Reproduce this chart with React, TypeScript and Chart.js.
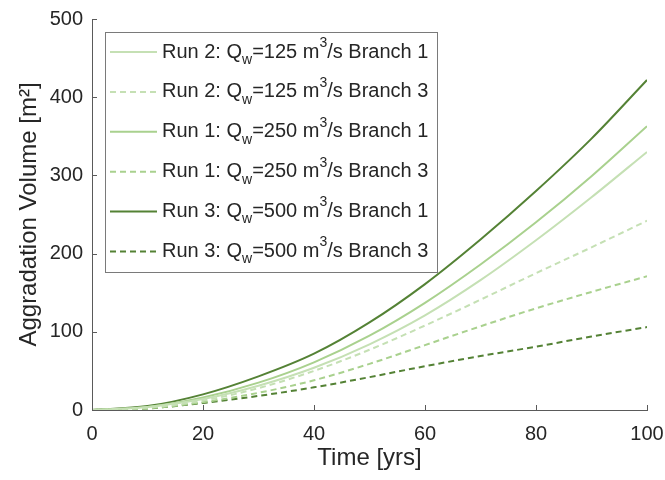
import React, { useEffect, useRef } from "react";
import { Chart, registerables } from "chart.js";

Chart.register(...registerables);

// Time axis (years) and aggradation volumes (m^2) for each run / branch
const years = [0, 10, 20, 30, 40, 50, 60, 70, 80, 90, 100];

const run2Branch1 = [0, 4, 14, 31, 54, 84, 121, 166, 217, 272, 330];
const run2Branch3 = [0, 3, 12, 28, 50, 77, 108, 141, 175, 208, 242];
const run1Branch1 = [0, 4, 16, 35, 61, 95, 137, 186, 240, 299, 363];
const run1Branch3 = [0, 2, 10, 22, 38, 59, 83, 107, 130, 151, 171];
const run3Branch1 = [0, 5, 20, 43, 72, 112, 161, 218, 280, 347, 422];
const run3Branch3 = [0, 2, 9, 18, 29, 42, 56, 69, 81, 94, 106];

// Legend pieces
const runNames = ["Run 2", "Run 2", "Run 1", "Run 1", "Run 3", "Run 3"];
const discharges = [125, 125, 250, 250, 500, 500];
const branches = [1, 3, 1, 3, 1, 3];

const xTicks = [0, 20, 40, 60, 80, 100];
const yTicks = [0, 100, 200, 300, 400, 500];

const LIGHT = "#c5e0b4";
const MEDIUM = "#a9d18e";
const DARK = "#548235";
const AXIS = "#5a5a5a";
const TEXT = "#262626";
const FONT = "'Liberation Sans', Arial, Helvetica, sans-serif";

const seriesValues = [run2Branch1, run2Branch3, run1Branch1, run1Branch3, run3Branch1, run3Branch3];
const seriesColors = [LIGHT, LIGHT, MEDIUM, MEDIUM, DARK, DARK];

const axesAndLegend = {
  id: "axesAndLegend",
  afterDraw(chart: any) {
    const { ctx, chartArea, scales } = chart;
    const xs = scales.x;
    const ys = scales.y;
    ctx.save();
    // inward tick marks
    ctx.strokeStyle = AXIS;
    ctx.lineWidth = 1;
    ctx.beginPath();
    xTicks.forEach((t) => {
      const px = Math.round(xs.getPixelForValue(t)) + 0.5;
      ctx.moveTo(px, chartArea.bottom);
      ctx.lineTo(px, chartArea.bottom - 5);
    });
    yTicks.forEach((t) => {
      const py = Math.round(ys.getPixelForValue(t)) + 0.5;
      ctx.moveTo(chartArea.left, py);
      ctx.lineTo(chartArea.left + 5, py);
    });
    ctx.stroke();

    // legend with sub/superscripts
    const big = `20px ${FONT}`;
    const small = `14px ${FONT}`;
    const rowH = 39.9;
    const left = chartArea.left + 13;
    const top = chartArea.top + 13;
    const textX = left + 57;

    const measureRow = (i: number) => {
      ctx.font = big;
      let w = ctx.measureText(`${runNames[i]}: Q`).width;
      ctx.font = small;
      w += ctx.measureText("w").width;
      ctx.font = big;
      w += ctx.measureText(`=${discharges[i]} m`).width;
      ctx.font = small;
      w += ctx.measureText("3").width;
      ctx.font = big;
      w += ctx.measureText(`/s Branch ${branches[i]}`).width;
      return w;
    };
    let maxW = 0;
    for (let i = 0; i < runNames.length; i++) maxW = Math.max(maxW, measureRow(i));
    const boxW = Math.round(57 + maxW + 9);
    const boxH = Math.round(rowH * runNames.length + 1);

    ctx.fillStyle = "#ffffff";
    ctx.fillRect(left, top, boxW, boxH);
    ctx.strokeStyle = "#7a7a7a";
    ctx.lineWidth = 1;
    ctx.strokeRect(left + 0.5, top + 0.5, boxW, boxH);

    chart.data.datasets.forEach((ds: any, i: number) => {
      const cy = top + 20 + i * rowH;
      ctx.strokeStyle = ds.borderColor;
      ctx.lineWidth = ds.borderWidth;
      ctx.setLineDash(ds.borderDash || []);
      ctx.beginPath();
      ctx.moveTo(left + 5, cy);
      ctx.lineTo(left + 52, cy);
      ctx.stroke();
      ctx.setLineDash([]);

      ctx.fillStyle = TEXT;
      ctx.textBaseline = "middle";
      ctx.textAlign = "left";
      let x = textX;
      ctx.font = big;
      let s = `${runNames[i]}: Q`;
      ctx.fillText(s, x, cy);
      x += ctx.measureText(s).width;
      ctx.font = small;
      ctx.fillText("w", x, cy + 8);
      x += ctx.measureText("w").width;
      ctx.font = big;
      s = `=${discharges[i]} m`;
      ctx.fillText(s, x, cy);
      x += ctx.measureText(s).width;
      ctx.font = small;
      ctx.fillText("3", x, cy - 9);
      x += ctx.measureText("3").width;
      ctx.font = big;
      ctx.fillText(`/s Branch ${branches[i]}`, x, cy);
    });
    ctx.restore();
  },
};

export default function App() {
  const canvasRef = useRef<HTMLCanvasElement | null>(null);

  useEffect(() => {
    document.body.style.margin = "0";
    const canvas = canvasRef.current;
    if (!canvas) return;

    const datasets = seriesValues.map((vals, i) => ({
      label: `${runNames[i]}: Qw=${discharges[i]} m3/s Branch ${branches[i]}`,
      data: years.map((yr, k) => ({ x: yr, y: vals[k] })),
      borderColor: seriesColors[i],
      backgroundColor: seriesColors[i],
      borderWidth: 2,
      borderDash: branches[i] === 3 ? [6, 4] : [],
      pointRadius: 0,
      fill: false,
      cubicInterpolationMode: "monotone" as const,
    }));

    const chart = new Chart(canvas, {
      type: "line",
      data: { datasets },
      options: {
        responsive: false,
        animation: false,
        layout: { padding: { top: 19, right: 18, left: 0, bottom: 0 } },
        plugins: { legend: { display: false }, tooltip: { enabled: false } },
        scales: {
          x: {
            type: "linear",
            min: 0,
            max: 100,
            afterBuildTicks: (scale: any) => {
              scale.ticks = xTicks.map((v) => ({ value: v }));
            },
            afterFit: (scale: any) => {
              scale.height = 70;
              scale.paddingLeft = 0;
              scale.paddingRight = 0;
            },
            grid: { display: false, drawTicks: false },
            border: { display: true, color: AXIS, width: 1 },
            ticks: { color: TEXT, font: { family: FONT, size: 20 }, padding: 12, maxRotation: 0 },
            title: {
              display: true,
              text: "Time [yrs]",
              color: TEXT,
              font: { family: FONT, size: 24 },
              padding: { top: 0, bottom: 7 },
            },
          },
          y: {
            type: "linear",
            min: 0,
            max: 500,
            afterBuildTicks: (scale: any) => {
              scale.ticks = yTicks.map((v) => ({ value: v }));
            },
            afterFit: (scale: any) => {
              scale.width = 92;
              scale.paddingTop = 0;
              scale.paddingBottom = 0;
            },
            grid: { display: false, drawTicks: false },
            border: { display: true, color: AXIS, width: 1 },
            ticks: { color: TEXT, font: { family: FONT, size: 20 }, padding: 9 },
            title: {
              display: true,
              text: "Aggradation Volume [m²]",
              color: TEXT,
              font: { family: FONT, size: 24 },
              padding: { top: 15, bottom: 0 },
            },
          },
        },
      },
      plugins: [axesAndLegend],
    });

    return () => chart.destroy();
  }, []);

  return (
    <div style={{ position: "relative", width: 665, height: 480, background: "#ffffff" }}>
      <canvas ref={canvasRef} width={665} height={480} />
    </div>
  );
}
